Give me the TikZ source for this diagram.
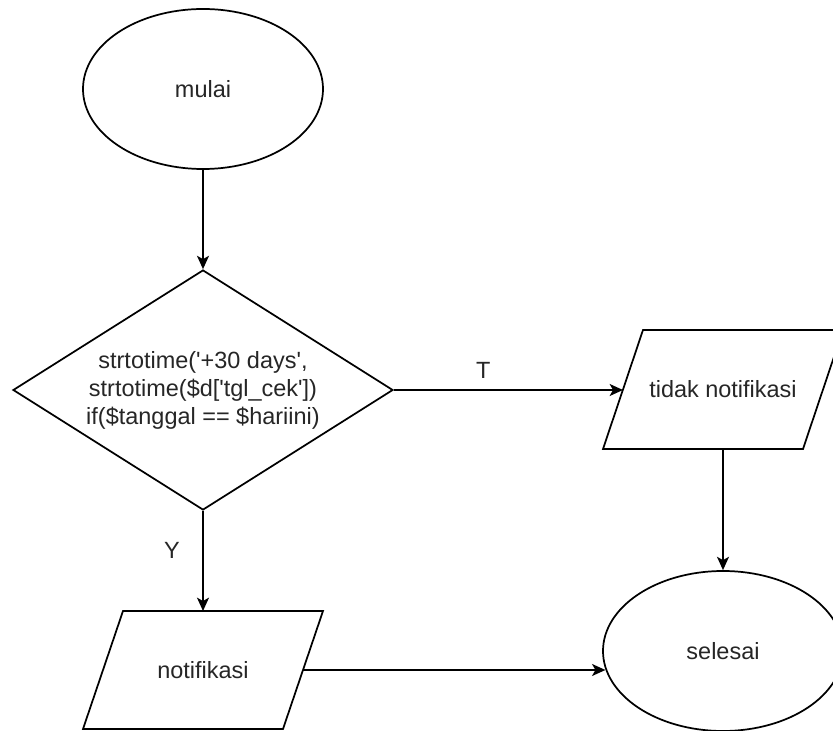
\documentclass[tikz,border=0pt]{standalone}
\usepackage{fontspec}
\newfontfamily\lsans{Liberation Sans}
\usetikzlibrary{shapes.geometric,arrows.meta}
\begin{document}
\begin{tikzpicture}[x=0.75pt,y=-0.75pt,
  txt/.style={font=\lsans\fontsize{17.6}{21}\selectfont, text=black!85},
  outline/.style={draw=black, line width=1.3pt, line join=miter},
  base/.style={txt, outline, fill=white, inner sep=0pt, align=center},
  term/.style={base, ellipse, minimum width=180pt, minimum height=120pt},
  decision/.style={base, diamond, minimum width=285pt, minimum height=180pt, aspect=1.583},
  iotext/.style={txt, inner sep=0pt, align=center},
  flow/.style={draw=black, line width=1.3pt, -{Stealth[length=10pt,width=9pt,inset=2.5pt]}},
  lbl/.style={txt, inner sep=0pt}
]
\useasboundingbox (0,0) rectangle (833,731);
\clip (0,0) rectangle (833,731);
% parallelogram corners
\coordinate (tidak-tl) at (643,330);
\coordinate (tidak-tr) at (843,330);
\coordinate (tidak-br) at (803,449);
\coordinate (tidak-bl) at (603,449);
\coordinate (tidak-in) at (623,389.5);
\coordinate (tidak-out) at (723,449);
\coordinate (notif-tl) at (123,611);
\coordinate (notif-tr) at (323,611);
\coordinate (notif-br) at (283,729);
\coordinate (notif-bl) at (83,729);
\coordinate (notif-in) at (203,611);
\coordinate (notif-out) at (303,670);
\draw[outline] (tidak-tl) -- (tidak-tr) -- (tidak-br) -- (tidak-bl) -- cycle;
\draw[outline] (notif-tl) -- (notif-tr) -- (notif-br) -- (notif-bl) -- cycle;
\node[iotext] (tidak) at (723,389.5) {tidak notifikasi};
\node[iotext] (notif) at (203,670) {notifikasi};
\node[term] (start) at (203,89) {mulai};
\node[decision] (cond) at (203,390) {strtotime('+30 days',\\strtotime(\$d['tgl\_cek'])\\if(\$tanggal == \$hariini)};
\node[term] (stop) at (723,651) {selesai};
\draw[flow] (start.south) -- (cond.north);
\draw[flow] (cond.east) -- node[lbl, pos=0.39, yshift=15pt] (tlab) {T} (cond.east -| tidak-in);
\draw[flow] (cond.south) -- node[lbl, pos=0.4, xshift=-23.25pt] (ylab) {Y} (notif-in);
\draw[flow] (tidak-out) -- (stop.north);
\draw[flow] (notif-out) -- (stop.189 |- notif-out);
\end{tikzpicture}
\end{document}
